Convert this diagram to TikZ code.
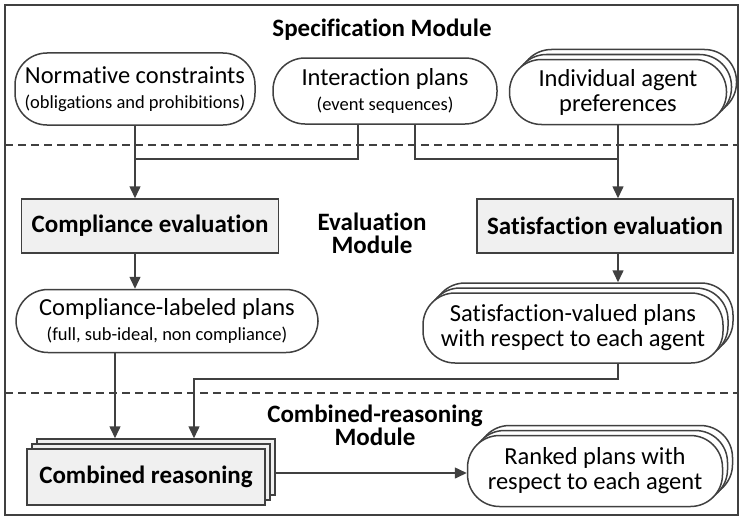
\documentclass[tikz,border=0pt]{standalone}
\usepackage{fontspec}
\setmainfont[Ligatures=NoCommon]{Carlito}
\usetikzlibrary{arrows.meta,shadows,calc}
\definecolor{linec}{HTML}{404040}
\definecolor{boxfill}{HTML}{F0F0F0}

\begin{document}
\begin{tikzpicture}[x=1pt,y=-1pt,
  pill/.style={draw=linec, line width=1.5pt, rounded corners=32pt, fill=white,
    align=center, inner sep=0pt, font=\fontsize{24.5}{25}\selectfont},
  stepbox/.style={draw=linec, line width=1.5pt, fill=boxfill, align=center,
    inner sep=0pt, font=\fontsize{25}{26}\selectfont\bfseries},
  stack/.style={double copy shadow={shadow xshift=5pt, shadow yshift=5pt,
    draw=linec, line width=1.5pt, fill=#1}},
  flow/.style={draw=linec, line width=1.5pt, -{Triangle[length=12pt,width=11pt]}},
  link/.style={draw=linec, line width=1.5pt},
  divider/.style={draw=linec, line width=1.4pt, dash pattern=on 8pt off 5pt},
  module/.style={font=\fontsize{25}{23}\selectfont\bfseries, align=center}
]
\newcommand{\subline}[1]{{\fontsize{18.5}{20}\selectfont #1}}
\useasboundingbox (0,0) rectangle (743,519);

% outer frame and module dividers
\draw[linec, line width=2.8pt] (5,5) rectangle (738,515);
\draw[divider] (5,145) -- (738,145);
\draw[divider] (5,393) -- (738,393);

% specification module
\node[module] (specm) at (382,30) {Specification Module};
\node[pill, minimum width=240pt, minimum height=72pt] (norm) at (135,89)
  {Normative constraints\\\subline{(obligations and prohibitions)}};
\node[pill, minimum width=224pt, minimum height=66pt] (inter) at (385,91)
  {Interaction plans\\\subline{(event sequences)}};
\node[pill, stack=white, minimum width=217pt, minimum height=65pt] (pref) at (618,92)
  {Individual agent\\preferences};

% evaluation module
\node[stepbox, minimum width=257pt, minimum height=54pt] (comp) at (150,226) {Compliance evaluation};
\node[stepbox, minimum width=256pt, minimum height=54pt] (sat) at (605,226) {Satisfaction evaluation};
\node[module] (evalm) at (372,233) {Evaluation\\Module};
\node[pill, minimum width=302pt, minimum height=63pt] (clab) at (167,321)
  {Compliance-labeled plans\\\subline{(full, sub-ideal, non compliance)}};
\node[pill, stack=white, minimum width=300pt, minimum height=70pt] (sval) at (573,328)
  {Satisfaction-valued plans\\with respect to each agent};

% combined-reasoning module
\node[module] (combm) at (375,425) {Combined-reasoning\\Module};
\node[stepbox, stack=boxfill, minimum width=238pt, minimum height=56pt] (comb) at (146,477) {Combined reasoning};
\node[pill, stack=white, minimum width=255pt, minimum height=71pt] (rank) at (595,471)
  {Ranked plans with\\respect to each agent};

% connectors
\coordinate (splitY) at (0,159);
\coordinate (mergeY) at (0,379);
\coordinate (combL) at ($(comb.north)+(-31,-10)$);
\coordinate (combR) at ($(comb.north)+(48,-10)$);
\coordinate (combOut) at ($(comb.east)+(10,-4)$);

\draw[link] ($(inter.south)+(-27,0)$) |- (norm.south |- splitY);
\draw[link] ($(inter.south)+(30,0)$) |- (pref.south |- splitY);
\draw[flow] (norm.south) -- (norm.south |- comp.north);
\draw[flow] (pref.south) -- (pref.south |- sat.north);
\draw[flow] (norm.south |- comp.south) -- (norm.south |- clab.north);
\draw[flow] (pref.south |- sat.south) -- ($(pref.south |- sval.north)+(0,-10)$);
\draw[flow] (combL |- clab.south) -- (combL);
\draw[flow] ($(sval.south)+(45,0)$) |- (combR |- mergeY) -- (combR);
\draw[flow] (combOut) -- (rank.west |- combOut);
\end{tikzpicture}
\end{document}
